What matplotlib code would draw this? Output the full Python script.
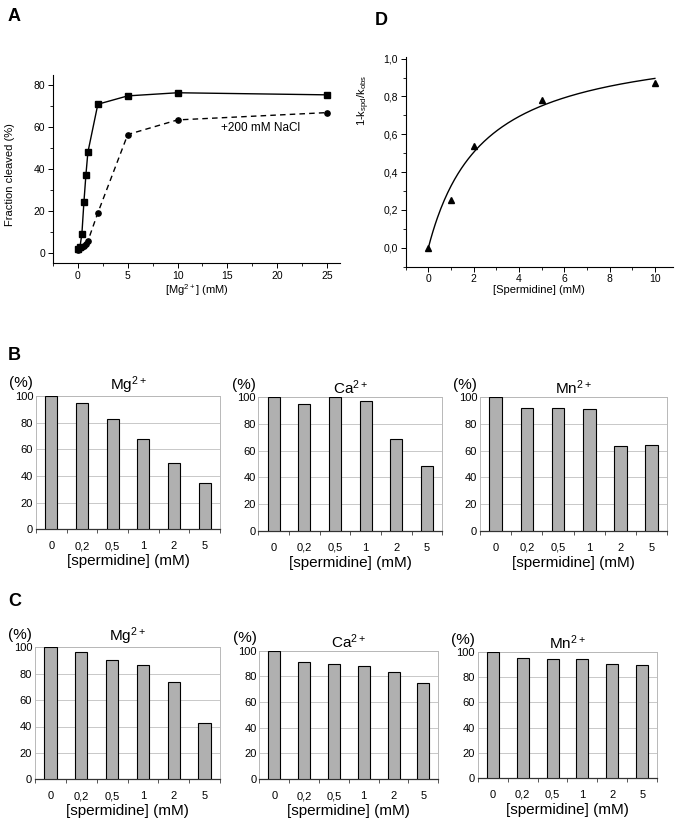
import matplotlib
matplotlib.use('Agg')
import matplotlib.pyplot as plt
from matplotlib.ticker import MultipleLocator
import numpy as np

plt.rcParams['font.family'] = 'Liberation Sans'
plt.rcParams['mathtext.fontset'] = 'custom'
plt.rcParams['mathtext.rm'] = 'Liberation Sans'
plt.rcParams['mathtext.it'] = 'Liberation Sans'

# panel A : cleavage vs [Mg2+]
mg_conc = [0, 0.2, 0.4, 0.6, 0.8, 1, 2, 5, 10, 25]
cleaved_mg = [1.5, 2.5, 9, 24, 37, 48, 71, 75, 76.5, 75.5]
cleaved_nacl = [1.2, 2, 2.5, 3, 4, 5.5, 19, 56.5, 63.5, 67]

# panel D : 1 - kspd/kobs vs [spermidine]
spd_conc = [0, 1, 2, 5, 10]
inhib = [0.0, 0.25, 0.54, 0.78, 0.87]
fit_bmax = 1.11   # hyperbolic fit
fit_k = 2.4

# panels B and C : relative activity (%)
spd_labels = ['0', '0,2', '0,5', '1', '2', '5']
b_mg = [100, 95, 83, 67.5, 49.5, 34.5]
b_ca = [100, 95, 100, 97.5, 68.5, 48.5]
b_mn = [100, 92, 92, 91.5, 63.5, 64.5]
c_mg = [100, 96.5, 90.5, 86.5, 74, 43]
c_ca = [100, 91, 90, 88, 83.5, 74.5]
c_mn = [100, 95.5, 95, 94.5, 91, 89.5]

W, H = 684, 827
fig = plt.figure(figsize=(W / 100, H / 100), dpi=100)


def rect(left, top, right, bottom):
    # pixel box -> figure fraction
    return [left / W, 1 - bottom / H, (right - left) / W, (bottom - top) / H]


def origin_style(ax):
    for s in ['top', 'right']:
        ax.spines[s].set_visible(False)
    for s in ['left', 'bottom']:
        ax.spines[s].set_linewidth(0.8)
    ax.tick_params(which='major', direction='out', length=3.5, width=0.7, labelsize=7.5, pad=2)
    ax.tick_params(which='minor', direction='out', length=2, width=0.6)


# ---- A
axA = fig.add_axes(rect(53, 75, 340, 263))
axA.plot(mg_conc, cleaved_mg, '-', color='black', lw=1, marker='s', ms=3.8)
axA.plot(mg_conc, cleaved_nacl, '--', color='black', lw=1, marker='o', ms=3.8, dashes=(4, 3))
axA.set_xlim(-2.5, 26.3)
axA.set_ylim(-5, 85)
axA.set_xticks([0, 5, 10, 15, 20, 25])
axA.set_yticks([0, 20, 40, 60, 80])
axA.xaxis.set_minor_locator(MultipleLocator(2.5))
axA.yaxis.set_minor_locator(MultipleLocator(10))
origin_style(axA)
axA.text(14.4, 59.5, '+200 mM NaCl', fontsize=8.5, va='center', ha='left')
axA.set_ylabel('Fraction cleaved (%)', fontsize=8)
axA.yaxis.set_label_coords(-0.132, 0.47)
axA.set_xlabel(r'[$\mathrm{Mg}^{2+}$] (mM)', fontsize=8)
axA.xaxis.set_label_coords(0.5, -0.1)

# ---- D
axD = fig.add_axes(rect(405.7, 56.7, 673, 266.7))
xs = np.linspace(0, 10, 200)
axD.plot(xs, fit_bmax * xs / (fit_k + xs), color='black', lw=1)
axD.plot(spd_conc, inhib, linestyle='none', marker='^', color='black', ms=5)
axD.set_xlim(-1, 10.8)
axD.set_ylim(-0.1, 1.01)
axD.set_xticks([0, 2, 4, 6, 8, 10])
yt = [0, 0.2, 0.4, 0.6, 0.8, 1.0]
axD.set_yticks(yt)
axD.set_yticklabels([f'{v:.1f}'.replace('.', ',') for v in yt])
axD.xaxis.set_minor_locator(MultipleLocator(1))
axD.yaxis.set_minor_locator(MultipleLocator(0.1))
origin_style(axD)
axD.set_ylabel(r'1-k$_{\rm spd}$/k$_{\rm obs}$', fontsize=8)
axD.yaxis.set_label_coords(-0.126, 0.79)
axD.set_xlabel('[Spermidine] (mM)', fontsize=8)
axD.xaxis.set_label_coords(0.5, -0.085)


def bar_panel(box, vals, ion):
    ax = fig.add_axes(rect(*box))
    x = np.arange(len(spd_labels))
    ax.bar(x, vals, width=0.4, color='#b0b0b0', edgecolor='black', linewidth=0.8, zorder=3)
    ax.set_xlim(-0.5, len(spd_labels) - 0.5)
    ax.set_ylim(0, 100)
    ax.set_yticks(range(0, 101, 20))
    ax.yaxis.grid(True, color='#c8c8c8', lw=0.7, zorder=0)
    for s in ['top', 'right', 'left']:
        ax.spines[s].set_color('#b8b8b8')
        ax.spines[s].set_linewidth(0.7)
    ax.spines['bottom'].set_color('#333333')
    ax.spines['bottom'].set_linewidth(0.9)
    ax.set_xticks(x)
    ax.set_xticklabels(spd_labels, va='baseline')
    ax.set_xticks(np.arange(-0.5, len(spd_labels), 1), minor=True)
    ax.tick_params(axis='x', which='major', length=0, pad=14.5, labelsize=8)
    ax.tick_params(axis='x', which='minor', length=3, width=0.7, color='#555555', direction='out')
    ax.tick_params(axis='y', length=0, pad=2, labelsize=8)
    ax.set_xlabel('[spermidine] (mM)', fontsize=11, labelpad=2)
    ax.set_title(r'$\mathrm{' + ion + '}^{2+}$', fontsize=11, pad=1.5)
    ax.annotate('(%)', xy=(0, 1), xycoords='axes fraction', xytext=(-2, 4),
                textcoords='offset points', ha='right', va='bottom', fontsize=11)
    return ax


bar_panel((36, 396, 220, 529.3), b_mg, 'Mg')
bar_panel((258.3, 397.3, 442.3, 530.7), b_ca, 'Ca')
bar_panel((480, 397.3, 667.3, 530.7), b_mn, 'Mn')
bar_panel((35, 647.3, 220, 779.3), c_mg, 'Mg')
bar_panel((259.3, 650.7, 438.3, 779), c_ca, 'Ca')
bar_panel((477.7, 652.3, 657.3, 777.7), c_mn, 'Mn')

# panel letters
for letter, px, py in [('A', 8, 8), ('D', 375, 12), ('B', 8, 347), ('C', 8, 593)]:
    fig.text(px / W, 1 - py / H, letter, fontsize=13, fontweight='bold', ha='left', va='top')

fig.savefig('out.png', dpi=100)
